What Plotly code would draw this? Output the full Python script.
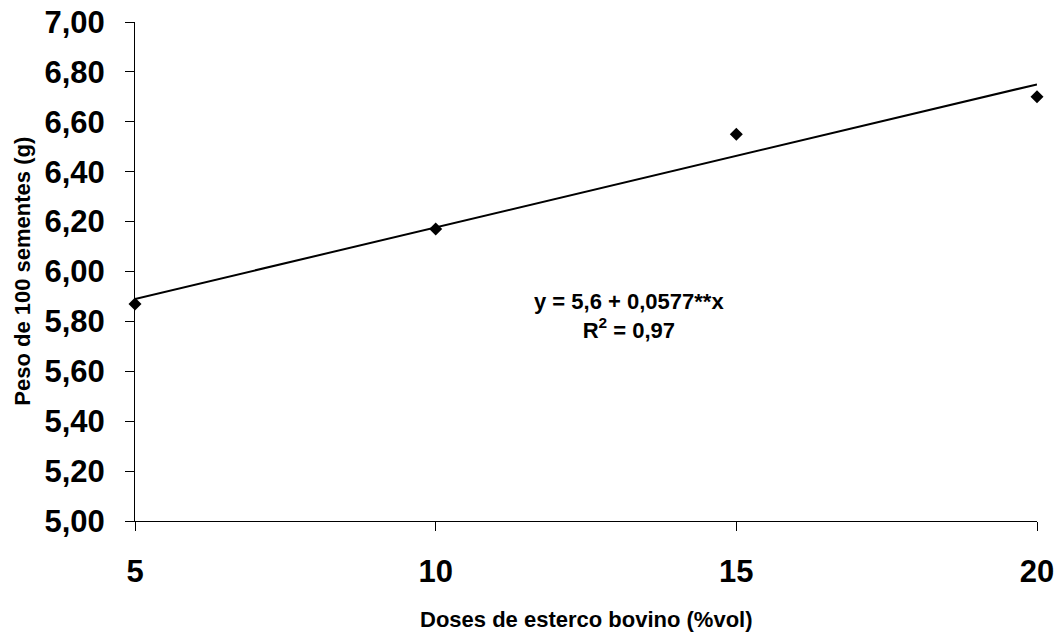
import plotly.graph_objects as go

# Data
doses = [5, 10, 15, 20]
peso = [5.87, 6.17, 6.55, 6.70]
trend_x = [5, 20]
trend_y = [5.89, 6.75]
x_ticks = [5, 10, 15, 20]
y_ticks = [5.0, 5.2, 5.4, 5.6, 5.8, 6.0, 6.2, 6.4, 6.6, 6.8, 7.0]
x_title = "Doses de esterco bovino (%vol)"
y_title = "Peso de 100 sementes (g)"
eq_text = "y = 5,6 + 0,0577**x"
r2_text = "R<sup>2</sup> = 0,97"

FONT = "Liberation Sans, Arial, sans-serif"

fig = go.Figure()
fig.add_trace(go.Scatter(
    x=trend_x, y=trend_y, mode="lines",
    line=dict(color="black", width=2), showlegend=False, hoverinfo="skip",
    cliponaxis=False,
))
fig.add_trace(go.Scatter(
    x=doses, y=peso, mode="markers",
    marker=dict(symbol="diamond", size=10, color="black"),
    showlegend=False, cliponaxis=False,
))

fig.add_annotation(
    x=0.548, y=0.41, xref="paper", yref="paper",
    text="<b>" + eq_text + "<br>" + r2_text + "</b>",
    showarrow=False, align="center",
    font=dict(family=FONT, size=22, color="black"),
)

# axis titles
fig.add_annotation(
    x=0.5, y=-0.198, xref="paper", yref="paper", yanchor="middle",
    text="<b>" + x_title + "</b>", showarrow=False,
    font=dict(family=FONT, size=22, color="black"),
)
fig.add_annotation(
    x=-0.125, y=0.5, xref="paper", yref="paper", xanchor="center",
    text="<b>" + y_title + "</b>", showarrow=False, textangle=-90,
    font=dict(family=FONT, size=22, color="black"),
)

fig.update_layout(
    width=1057, height=635,
    margin=dict(l=135, r=20, t=22, b=114),
    paper_bgcolor="white", plot_bgcolor="white",
    separators=",.",
    font=dict(family=FONT, color="black"),
    xaxis=dict(
        range=[5, 20], tickmode="array", tickvals=x_ticks, automargin=False,
        showgrid=False, zeroline=False, showline=True, linecolor="black", linewidth=1,
        ticks="outside", ticklen=9, tickcolor="black",
        tickfont=dict(family=FONT, size=31, color="black", weight="bold"),
        ticklabelstandoff=14,
    ),
    yaxis=dict(
        range=[5, 7], tickmode="array", tickvals=y_ticks, tickformat=".2f", automargin=False,
        showgrid=False, zeroline=False, showline=True, linecolor="black", linewidth=1,
        ticks="outside", ticklen=9, tickcolor="black",
        tickfont=dict(family=FONT, size=31, color="black", weight="bold"),
        ticklabelstandoff=14,
    ),
)

fig.write_html(
    "out.html",
    config={"displayModeBar": False},
    post_script="document.body.style.margin='0';document.body.style.overflow='hidden';",
)
